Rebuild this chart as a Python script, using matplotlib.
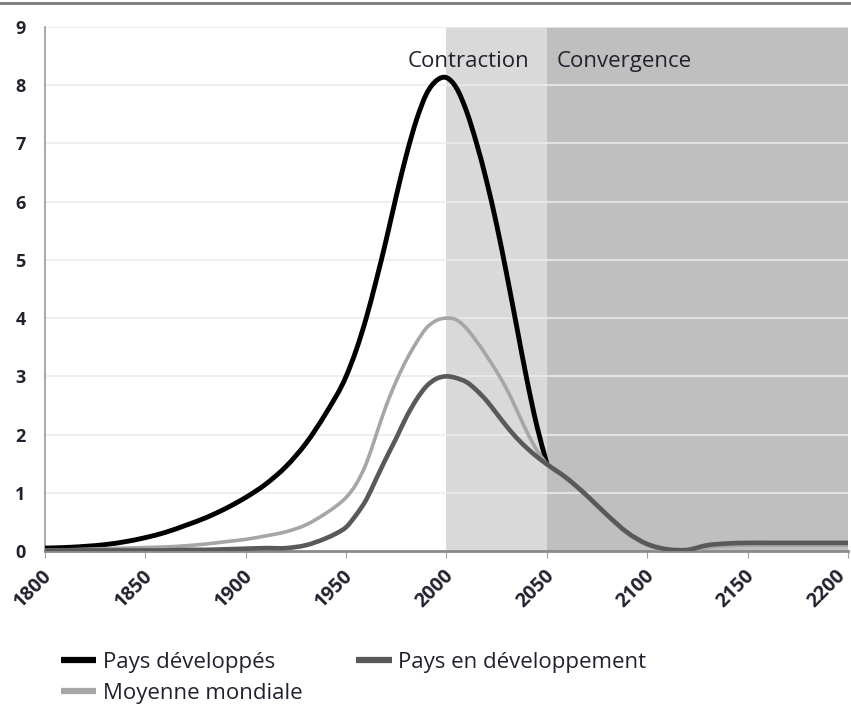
import matplotlib
matplotlib.use('Agg')
import matplotlib.pyplot as plt
import matplotlib.transforms as mtransforms
from matplotlib.lines import Line2D
from matplotlib.path import Path
from matplotlib.patches import PathPatch
import numpy as np

# data (years, values)
years_dev = [1800, 1810, 1820, 1830, 1840, 1850, 1860, 1870, 1880, 1890, 1900, 1910, 1920,
             1930, 1940, 1950, 1955, 1960, 1965, 1970, 1975, 1980, 1985, 1990, 1995, 2000,
             2005, 2010, 2015, 2020, 2025, 2030, 2035, 2040, 2045, 2050]
pays_developpes = [0.05, 0.06, 0.08, 0.11, 0.16, 0.23, 0.32, 0.44, 0.57, 0.73, 0.92, 1.15, 1.45,
                   1.85, 2.37, 3.0, 3.45, 4.0, 4.65, 5.35, 6.1, 6.8, 7.4, 7.85, 8.08, 8.13,
                   7.95, 7.55, 7.0, 6.35, 5.6, 4.75, 3.85, 2.95, 2.15, 1.5]

years = [1800, 1810, 1820, 1830, 1840, 1850, 1860, 1870, 1880, 1890, 1900, 1910, 1920,
         1930, 1940, 1945, 1950, 1955, 1960, 1965, 1970, 1975, 1980, 1985, 1990, 1995,
         2000, 2005, 2010, 2015, 2020, 2025, 2030, 2035, 2040, 2045, 2050, 2060, 2070,
         2080, 2090, 2100, 2110, 2120, 2130, 2140, 2150, 2160, 2170, 2180, 2190, 2200]
moyenne_mondiale = [0.02, 0.02, 0.03, 0.04, 0.05, 0.06, 0.07, 0.09, 0.12, 0.16, 0.2, 0.26, 0.33,
                    0.45, 0.65, 0.77, 0.92, 1.15, 1.5, 2.0, 2.5, 2.92, 3.28, 3.58, 3.83, 3.96,
                    4.0, 3.97, 3.82, 3.6, 3.35, 3.08, 2.78, 2.42, 2.05, 1.73, 1.5, 1.23, 0.93,
                    0.6, 0.3, 0.1, 0.01, 0.0, 0.06, 0.09, 0.1, 0.1, 0.1, 0.1, 0.1, 0.1]
pays_en_dev = [0.01, 0.01, 0.01, 0.01, 0.01, 0.01, 0.01, 0.02, 0.02, 0.03, 0.04, 0.05, 0.05,
               0.1, 0.22, 0.3, 0.41, 0.62, 0.88, 1.24, 1.6, 1.94, 2.3, 2.6, 2.83, 2.96,
               3.0, 2.97, 2.9, 2.76, 2.58, 2.36, 2.14, 1.94, 1.77, 1.62, 1.49, 1.25, 0.95,
               0.62, 0.32, 0.12, 0.03, 0.02, 0.1, 0.13, 0.14, 0.14, 0.14, 0.14, 0.14, 0.14]

txt = '#22222e'
plt.rcParams['font.family'] = ['Open Sans', 'DejaVu Sans']


def smooth_line(ax, x, y, **kw):
    # smoothed line like excel: hermite segments (drawn as beziers) through the points
    x = np.asarray(x, float)
    y = np.asarray(y, float)
    m = np.gradient(y, x)
    verts = [(x[0], y[0])]
    codes = [Path.MOVETO]
    for i in range(len(x) - 1):
        h = (x[i + 1] - x[i]) / 3
        verts += [(x[i] + h, y[i] + m[i] * h), (x[i + 1] - h, y[i + 1] - m[i + 1] * h),
                  (x[i + 1], y[i + 1])]
        codes += [Path.CURVE4] * 3
    ax.add_patch(PathPatch(Path(verts, codes), fill=False, transform=ax.transData,
                           capstyle='round', joinstyle='round', **kw))


fig = plt.figure(figsize=(8.51, 7.07), dpi=100)
ax = fig.add_axes([45/851, 156/707, 803/851, 524/707])

ax.axvspan(2000, 2050, color='#d9d9d9', zorder=0, lw=0)
ax.axvspan(2050, 2200, color='#bfbfbf', zorder=0, lw=0)
for v in range(1, 10):
    ax.axhline(v, color='#ebebeb', lw=1.5, zorder=0.5, alpha=0.8)

smooth_line(ax, years_dev, pays_developpes, edgecolor='black', lw=3.5, zorder=3)
smooth_line(ax, years, moyenne_mondiale, edgecolor='#a6a6a6', lw=2.6, zorder=3)
smooth_line(ax, years, pays_en_dev, edgecolor='#595959', lw=3.3, zorder=3)

ax.text(2011, 8.4, 'Contraction', ha='center', va='center', fontsize=16, color=txt)
ax.text(2055, 8.4, 'Convergence', ha='left', va='center', fontsize=16, color=txt)

ax.set_xlim(1800, 2200)
ax.set_ylim(0, 9)
ax.set_xticks(range(1800, 2201, 50))
ax.set_yticks(range(0, 10))
ax.tick_params(axis='x', length=5, color='#a0a0a0', labelsize=14, labelcolor=txt, pad=4)
ax.tick_params(axis='y', length=0, labelsize=13, labelcolor=txt, pad=14)
xlabels = ax.get_xticklabels()
for i, lab in enumerate(xlabels):
    dx = -13 if i == len(xlabels) - 1 else -3
    shift = mtransforms.ScaledTranslation(dx/100, -2/100, fig.dpi_scale_trans)
    lab.set_rotation(45)
    lab.set_ha('right')
    lab.set_rotation_mode('anchor')
    lab.set_transform(lab.get_transform() + shift)
for lab in ax.get_xticklabels() + ax.get_yticklabels():
    lab.set_fontweight('bold')

for s in ['top', 'right']:
    ax.spines[s].set_visible(False)
ax.spines['left'].set_color('#9a9a9a')
ax.spines['left'].set_linewidth(1.2)
ax.spines['bottom'].set_color('#8a8a8a')
ax.spines['bottom'].set_linewidth(2)

fig.add_artist(Line2D([0, 1], [1 - 2.5/707, 1 - 2.5/707], color='#7a7a7a', lw=2))

h_dev = Line2D([], [], color='black', lw=4.5, solid_capstyle='butt')
h_moy = Line2D([], [], color='#a6a6a6', lw=4.5, solid_capstyle='butt')
h_endev = Line2D([], [], color='#595959', lw=4.5, solid_capstyle='butt')
leg = fig.legend([h_dev, h_moy, h_endev],
                 ['Pays développés', 'Moyenne mondiale', 'Pays en développement'],
                 ncol=2, loc='upper left', bbox_to_anchor=(52/851, 1 - 643/707), frameon=False,
                 fontsize=16, handlelength=1.6, handletextpad=0.3, columnspacing=2.4,
                 labelspacing=0.45, borderaxespad=0)
for t in leg.get_texts():
    t.set_color(txt)

fig.savefig('out.png', dpi=100)
